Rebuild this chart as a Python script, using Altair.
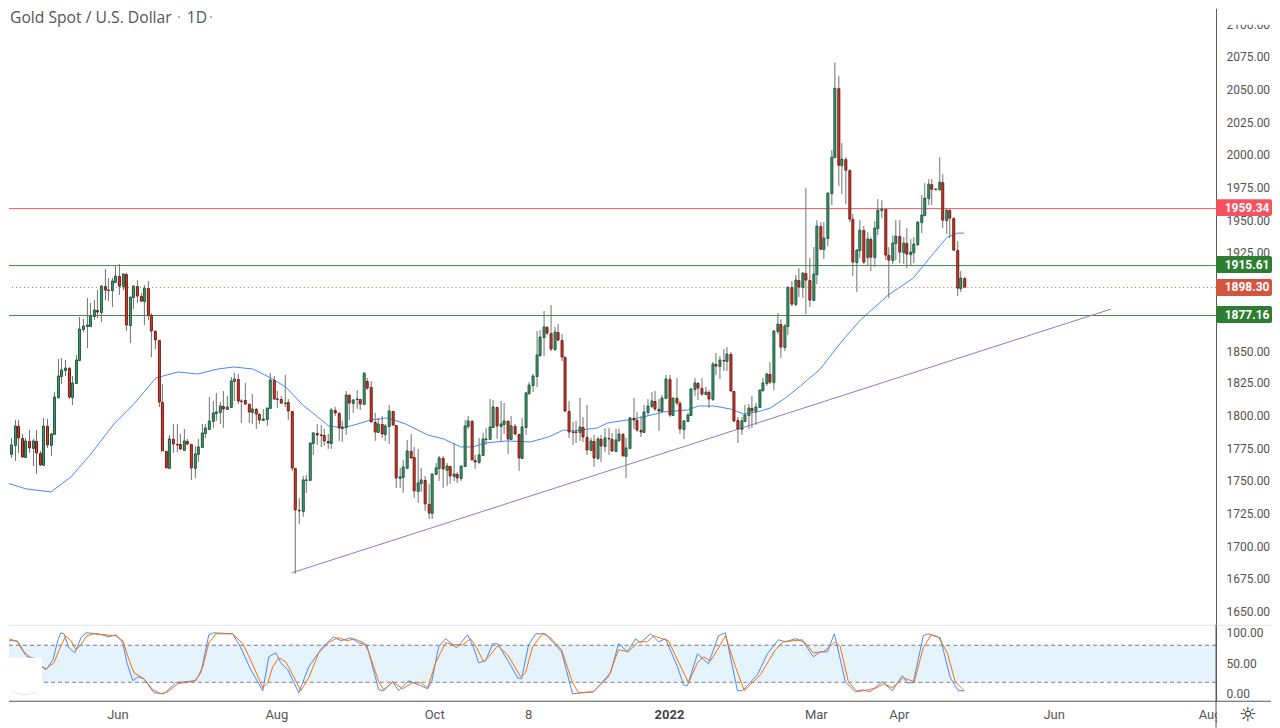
import pandas as pd
import altair as alt

opens = [
    1735, 1762.4, 1782.9, 1770.6, 1777.5, 1792.1, 1782.9, 1768.8, 1780.6, 1775.7,
    1780.6, 1771.4, 1762.6, 1792.1, 1777.5, 1786, 1814.4, 1830.6, 1835.2, 1836.7,
    1814.4, 1825.2, 1842.9, 1866.7, 1869, 1869, 1876.2, 1880.6, 1879.8, 1899,
    1896, 1896, 1902.6, 1906.7, 1899.6, 1908.5, 1869.8, 1890.6, 1899, 1891.9,
    1888, 1897.5, 1877, 1865.2, 1858.3, 1810.6, 1772.9, 1759.8, 1782.1, 1778.3,
    1778.3, 1774.2, 1780.6, 1778.3, 1759.8, 1770.8, 1776, 1786.7, 1790.3, 1796,
    1802.1, 1802.6, 1807.5, 1805.2, 1806.5, 1826.7, 1828.3, 1811.6, 1812, 1809,
    1802.6, 1805.2, 1801.4, 1796.5, 1797.3, 1806, 1827.5, 1812.9, 1812.9, 1810,
    1810.6, 1803.7, 1760.3, 1728.3, 1727.5, 1751, 1751, 1779, 1786.7, 1785.2,
    1785.2, 1780.9, 1779.6, 1804.4, 1802.4, 1790.6, 1791.6, 1816.2, 1809.6, 1812.6,
    1812.9, 1808.8, 1826.7, 1822.1, 1795.2, 1788, 1793.7, 1786.5, 1792.6, 1803.7,
    1793, 1752.6, 1753.4, 1760.5, 1772.9, 1768.3, 1742.6, 1749, 1750.6, 1732.9,
    1725.7, 1755.2, 1759.8, 1767.8, 1758.8, 1761.4, 1754.2, 1755.7, 1752.6, 1761.4,
    1792.1, 1796, 1766.5, 1765, 1769.8, 1782, 1782.1, 1791.4, 1806.7, 1792.1,
    1793.7, 1796, 1782.1, 1792.1, 1786, 1768, 1791.4, 1817.5, 1823.6, 1830.6,
    1846.8, 1860.6, 1868.3, 1863.7, 1851, 1864.5, 1858.3, 1845.2, 1803.4, 1788,
    1787.5, 1787.3, 1791.4, 1783.7, 1773.7, 1780.6, 1767.5, 1782.1, 1777.2, 1782.9,
    1782.1, 1773.4, 1781.3, 1785.9, 1769.5, 1775.7, 1798.3, 1796.8, 1789.5, 1788,
    1802.6, 1807.5, 1811.3, 1805.2, 1803.4, 1813.6, 1828.5, 1800.3, 1813.6, 1809.8,
    1790.3, 1795.7, 1800.3, 1820.3, 1825.2, 1821.3, 1816.4, 1818.2, 1812.6, 1839.8,
    1838, 1842.4, 1841.8, 1847.5, 1819, 1796.7, 1790.3, 1795.7, 1800.3, 1805.9,
    1803.4, 1806.5, 1819.8, 1825.2, 1832, 1825.7, 1865, 1870.5, 1852.6, 1869,
    1898.2, 1885.9, 1903.6, 1898.2, 1909, 1903.6, 1889, 1908.2, 1945.2, 1928,
    1935.9, 1970.5, 1998.2, 2050.5, 1991.8, 1996.7, 1988.2, 1950.5, 1917.5, 1926.7,
    1942.1, 1921.3, 1935.2, 1921.3, 1943.6, 1957.5, 1958.2, 1922.9, 1919, 1932,
    1937.5, 1925.2, 1932, 1923.6, 1925.2, 1931.3, 1948.2, 1953.6, 1966.7, 1977.5,
    1973.6, 1973.6, 1979, 1949.8, 1957.5, 1951.3, 1926.7, 1897.5, 1905.2,
]
closes = [
    1762.4, 1782.9, 1770.6, 1777.5, 1792.1, 1782.9, 1768.8, 1780.6, 1775.7, 1780.6,
    1771.4, 1762.6, 1792.1, 1777.5, 1786.2, 1814.4, 1830.6, 1835.2, 1836.7, 1814.4,
    1825.2, 1842.9, 1866.7, 1869, 1869.2, 1876.2, 1880.6, 1879.8, 1899, 1896,
    1895.9, 1903.2, 1906.7, 1899.6, 1908.5, 1869.8, 1890.6, 1899, 1891.9, 1888,
    1897.5, 1877, 1865.2, 1858.3, 1810.6, 1772.9, 1759.8, 1782.1, 1778.3, 1778.1,
    1774.4, 1780.6, 1778.3, 1759.8, 1770.8, 1776, 1786.7, 1790.8, 1796, 1802.1,
    1802.6, 1807.5, 1805.2, 1807, 1826.7, 1828.3, 1811, 1811.5, 1809, 1802.6,
    1805.2, 1801.4, 1796.5, 1797.5, 1806, 1827.5, 1812.9, 1812.8, 1809.8, 1810.2,
    1803.7, 1760.3, 1727.8, 1727.5, 1750.6, 1751.2, 1779, 1786.7, 1785.2, 1785.1,
    1780.9, 1779.6, 1804.4, 1801.9, 1790.6, 1791.6, 1816.2, 1809.6, 1812.1, 1812.8,
    1808.8, 1832.9, 1821.6, 1795.2, 1788, 1793.7, 1786.5, 1792.6, 1803.7, 1793,
    1752.6, 1753.4, 1760.6, 1772.9, 1768, 1742.6, 1749, 1750.6, 1732.9, 1725.7,
    1755.2, 1759.8, 1767.8, 1759, 1761.4, 1754.2, 1755.7, 1752.6, 1761.4, 1792.1,
    1796, 1766.5, 1765, 1769.8, 1782.1, 1782.4, 1791.4, 1806.7, 1792.1, 1793.7,
    1796, 1782.1, 1792.1, 1786, 1768, 1791.4, 1817.5, 1823.6, 1830.6, 1846.8,
    1860.6, 1868.3, 1863.7, 1851, 1864.5, 1858.3, 1845.2, 1803.4, 1788, 1787.3,
    1787.3, 1791.4, 1783.7, 1773.7, 1780.6, 1767.5, 1782.1, 1777.2, 1782.9, 1782.1,
    1773.4, 1781.3, 1785.9, 1769.5, 1775.7, 1798.3, 1796.8, 1789.5, 1788, 1802.6,
    1807.5, 1811.3, 1804.9, 1803.4, 1813.6, 1828.5, 1800.3, 1813.6, 1809.5, 1790.3,
    1796.2, 1800.8, 1820.8, 1825.2, 1821, 1816.4, 1818.2, 1812.6, 1839.8, 1838,
    1842.9, 1841.9, 1847.5, 1819, 1796.2, 1790.3, 1795.7, 1800.5, 1805.9, 1803.4,
    1806.7, 1819.8, 1825.2, 1832, 1825.7, 1865.2, 1870.5, 1852.6, 1869, 1898.2,
    1885.9, 1903.6, 1898.2, 1909, 1903.6, 1889, 1908.2, 1945.2, 1928, 1935.9,
    1970.5, 1998.2, 2050.5, 1991.8, 1996.7, 1988.2, 1950.5, 1917.5, 1926.7, 1942.1,
    1917.5, 1935.2, 1921.3, 1943.6, 1957.5, 1958.2, 1922.9, 1919, 1932, 1937.5,
    1925.2, 1932, 1923.6, 1925.2, 1931.3, 1948.2, 1953.6, 1966.7, 1977.5, 1973.6,
    1973.5, 1979, 1949.8, 1957.5, 1951.3, 1926.7, 1897.5, 1905.2, 1898.3,
]
highs = [
    1763, 1783, 1789.3, 1783.4, 1797, 1797, 1786, 1783.4, 1789, 1782.6,
    1789.3, 1773, 1798, 1797.5, 1787, 1818, 1843.4, 1844.4, 1842.4, 1837,
    1830.8, 1846.2, 1875.7, 1874.4, 1889.8, 1886, 1888.5, 1896, 1900, 1912.4,
    1905.2, 1905.2, 1915.5, 1916.2, 1909, 1909, 1890.6, 1900, 1904, 1893.7,
    1900, 1903.4, 1878.3, 1865.5, 1858.3, 1824.4, 1772.9, 1785.4, 1793.7, 1793.7,
    1786, 1789.8, 1782, 1778.3, 1776.9, 1782, 1793.7, 1793.7, 1814.7, 1811.6,
    1817.5, 1810.3, 1819.3, 1815.5, 1829.6, 1832.6, 1832, 1812.9, 1825, 1810,
    1816.7, 1805.7, 1801.9, 1805.2, 1806, 1832.6, 1830.8, 1819.3, 1815.5, 1831.6,
    1812.9, 1803.7, 1760.3, 1737, 1754, 1755, 1779.5, 1788, 1794, 1793,
    1790, 1786, 1805.7, 1807, 1803, 1796, 1819, 1817, 1813, 1820,
    1812.9, 1833, 1829, 1826.7, 1802, 1798, 1800, 1794, 1808, 1804,
    1793, 1760, 1766, 1781.5, 1786, 1776, 1774.5, 1760, 1754, 1748,
    1755.5, 1764, 1769, 1769.5, 1764, 1762, 1779, 1757, 1761.5, 1797,
    1800, 1797, 1770, 1783, 1787, 1791, 1813, 1812, 1807, 1811,
    1810, 1797, 1800, 1794, 1786, 1798, 1818, 1826, 1832, 1865,
    1866, 1880, 1869, 1885, 1868, 1870, 1863, 1846, 1811, 1795,
    1796, 1814, 1799, 1808, 1783, 1785, 1784, 1785, 1791, 1791,
    1787, 1790, 1790, 1787, 1783, 1799, 1814, 1803, 1800, 1808,
    1813, 1818, 1819, 1813, 1816, 1831, 1831, 1814, 1829, 1811,
    1797, 1802, 1821, 1829, 1826, 1829, 1822, 1820, 1841, 1848,
    1846, 1851, 1853, 1849, 1819, 1799, 1799, 1808, 1809, 1815,
    1810, 1820, 1829, 1833, 1841, 1866, 1879, 1874, 1870, 1898,
    1903, 1908, 1913, 1910, 1974, 1921, 1929, 1950, 1948, 1948,
    1971, 2003, 2070.5, 2059.8, 2009, 1998, 1989, 1954.5, 1928, 1950,
    1945, 1941, 1937, 1949, 1966, 1965, 1959, 1929, 1938, 1950,
    1950, 1937, 1944, 1935, 1937, 1949, 1969, 1978, 1981, 1981,
    1974, 1998.3, 1985, 1958, 1958, 1952, 1934, 1911, 1906.5,
]
lows = [
    1733, 1758.3, 1765.5, 1768, 1765.5, 1771.9, 1768, 1768, 1771.9, 1761.6,
    1755.7, 1762, 1762.6, 1775.7, 1769.3, 1786, 1812.9, 1824.4, 1830.8, 1812.9,
    1808.3, 1825, 1841.9, 1864, 1851.9, 1868, 1873.7, 1875, 1871.9, 1888.5,
    1888, 1883.4, 1902.6, 1892.4, 1896.2, 1864.7, 1855.7, 1882.1, 1886, 1887.2,
    1869.3, 1873.7, 1845, 1851.4, 1806.5, 1772.9, 1759.8, 1759.8, 1771.9, 1772.6,
    1773.7, 1773, 1777.8, 1750.6, 1752.6, 1765, 1775.9, 1783.4, 1789.8, 1791,
    1796, 1793.7, 1791, 1804.7, 1806.5, 1811, 1809, 1794.9, 1808.5, 1794.2,
    1793.7, 1789.8, 1793.7, 1796.2, 1792.4, 1806, 1812.1, 1806, 1809, 1806.5,
    1796.7, 1757.8, 1679, 1717.4, 1723, 1741, 1750, 1770, 1777.5, 1776,
    1777, 1775, 1775, 1800, 1781, 1780, 1785, 1797, 1802, 1805,
    1804.7, 1808.8, 1820, 1795, 1781, 1787, 1783, 1780.5, 1778.5, 1792,
    1744.6, 1745, 1741, 1760.5, 1767, 1737, 1733, 1742, 1727, 1721,
    1721, 1755, 1750, 1745, 1746, 1748, 1750, 1748.6, 1750, 1761,
    1790, 1766, 1759, 1763, 1769, 1778, 1782, 1791, 1782, 1780,
    1786, 1771, 1782, 1785, 1758, 1768, 1785, 1816, 1818, 1822,
    1845, 1846, 1862, 1849.5, 1849.5, 1857, 1842, 1803, 1783, 1778,
    1779.5, 1781, 1780, 1770, 1773, 1761, 1766, 1765, 1772, 1770,
    1772, 1772, 1780, 1769, 1752.5, 1775, 1790, 1788, 1784, 1787,
    1800, 1806, 1804, 1788.5, 1803, 1813, 1799, 1800, 1808, 1785.9,
    1782, 1795, 1800, 1815, 1812, 1815, 1816, 1806, 1811, 1831,
    1828, 1834, 1834, 1818.5, 1795, 1779.5, 1785, 1795, 1790, 1791,
    1793, 1806, 1818, 1823, 1824, 1820, 1863, 1844, 1850, 1862,
    1884, 1884, 1891, 1890, 1878, 1883.5, 1889, 1901, 1927, 1920,
    1930, 1961, 1998, 1976, 1970, 1962, 1948, 1907, 1895, 1921,
    1916, 1915, 1911, 1914, 1938, 1951, 1919, 1890, 1916, 1919,
    1917, 1916, 1913, 1915, 1917, 1930, 1940, 1953, 1961, 1961,
    1973, 1972, 1944, 1939, 1936, 1926, 1891.5, 1895, 1897.5,
]

# moving average, read at the bends
ma_idx = [0.25, 7.2, 14.1, 19.7, 25.2, 31.7, 37.3, 43.3, 49.3, 54.9, 60.4, 65, 70.2, 75.2, 79.4, 84, 88.2, 91.4, 95.6,
          99.3, 103, 107.7, 112.8, 118.8, 123.4, 128, 131.3, 135, 141, 147.5, 152.6, 156.7, 159.5, 166, 168.8, 174.3,
          178.9, 184.5, 191, 194.2, 198.4, 203, 206.7, 210.4, 214.1, 218.3, 222.5, 228, 233.6, 239.1, 247, 254, 258.6,
          263.2, 266, 268]
ma_val = [1750, 1744, 1742, 1753, 1770.8, 1794, 1809, 1829, 1833.4, 1832, 1836, 1837.5, 1835.5, 1829, 1821.9, 1808, 1799,
          1791.9, 1791, 1794, 1797, 1798, 1794, 1785.5, 1782, 1776.5, 1776.5, 1779.5, 1780.8, 1780, 1784, 1789.3, 1788.5,
          1791, 1794.6, 1797, 1799.3, 1803, 1804.7, 1807.5, 1807.5, 1805.5, 1801.6, 1802.7, 1806, 1814, 1823, 1836,
          1855.5, 1873, 1892.4, 1905.5, 1921.8, 1937, 1939.8, 1940]

trend_idx = [81.1, 308.9]
trend_val = [1679.8, 1881.7]

level_names = ["1959.34", "1915.61", "1877.16"]
level_vals = [1959.34, 1915.61, 1877.16]
level_cols = ["#f7525f", "#388e3c", "#388e3c"]
last_price = 1898.30

price_ticks = [1650, 1675, 1700, 1725, 1750, 1775, 1800, 1825, 1850, 1875, 1900, 1925, 1950, 1975,
               2000, 2025, 2050, 2075, 2100]

k_idx = [0.25, 1.4, 2.6, 4.7, 6, 7.5, 9, 11.6, 12.8, 14.6, 16, 16.9, 17.8, 19.2, 20.8, 22.5, 23.9, 27.1, 30.3, 32.2, 34,
         35.3, 36.8, 38.2, 40.1, 42.8, 45.6, 48.9, 54, 55.8, 58.1, 59.5, 64.6, 66.9, 69.7, 72.9, 74.8, 76.6, 78, 79.9,
         82.9, 85.9, 89.6, 92.8, 94.7, 97.5, 99.8, 101.9, 103, 105.3, 106.7, 109.1, 110.9, 113.7, 116.9, 118.8, 120.1,
         122, 123.8, 126.9, 129.9, 131.7, 133.1, 135, 136.8, 138.2, 141.4, 143.8, 145.1, 147, 148.8, 151.6, 156.2, 159,
         165, 169.7, 172, 174.3, 176.6, 178, 180.8, 183.1, 185, 188.2, 190, 191.2, 193.8, 197, 199.6, 201.6, 204.9,
         206.3, 210.4, 213.2, 216.4, 218.3, 221.1, 223.4, 226, 228, 229.9, 232, 233.6, 235, 237.8, 239.6, 241.9, 245.2,
         247.9, 250.7, 252.1, 254, 256.7, 257.9, 261.4, 264.2, 266.5, 268]
k_val = [84.6, 93.3, 87.9, 87.3, 72.5, 60.4, 58.8, 45, 39.5, 56, 89, 100, 98.8, 75.2, 67, 91.7, 100, 99.4, 94.5, 96.6,
         83.5, 50.5, 22, 27.5, 24.2, 1.1, 0, 17.6, 22, 34, 97.2, 100, 98.8, 75.2, 39.5, 5, 61.5, 68.1, 50.5, 39.5, 1.1,
         45, 78, 93.3, 87.9, 91.7, 84.6, 80.7, 56, 6.6, 5, 20.3, 5.5, 21.4, 13.7, 8.3, 20.3, 78, 90, 75.2, 97.2, 75.2,
         50.5, 54.9, 82.4, 82.4, 53.3, 25.8, 24.7, 80.7, 99.4, 99.4, 69.7, 0, 3.9, 34, 82.4, 68.7, 90.6, 83.5, 98.8,
         86.2, 90, 45, 14.8, 13.2, 65.9, 49.4, 95.6, 100, 5, 5, 31.3, 65.3, 89, 86.2, 90, 86.2, 60.4, 69.7, 68.7, 98.8,
         56, 19.2, 2.8, 6.6, 3.9, 19.2, 5.5, 30.2, 18.7, 18.7, 95.6, 99.4, 91.7, 25.8, 5.5, 4.4]

d_idx = [0.2, 1.2, 2.6, 4.9, 6.7, 8.6, 11.6, 12.8, 15.1, 16.5, 18.3, 19.7, 21.1, 22.5, 24.1, 26.2, 29, 32.2, 34, 35.4,
         37.1, 40.1, 42.4, 44.7, 46.5, 49.3, 54.4, 56.3, 58.1, 60, 64.6, 67.4, 70.2, 72.9, 74.3, 75.7, 77.6, 79.4, 81.7,
         83.6, 85.9, 88.7, 91.5, 93.8, 96.6, 98.4, 101.2, 102.6, 104, 105.3, 106.7, 109.1, 111.8, 114.6, 116.9, 118.9,
         121.1, 123.8, 126.2, 128.5, 130.8, 132.6, 134.5, 135.9, 138.2, 141, 144.7, 146.1, 147.9, 150.7, 153, 156.2, 159,
         160.9, 165, 169.2, 172, 174.8, 177.5, 179.9, 181.7, 185.9, 188.2, 191.4, 193.8, 195.6, 197.5, 199.3, 201.6,
         204.4, 206.9, 211.3, 215.5, 217.8, 222.9, 226.2, 228.9, 232.2, 233.6, 235.9, 238.2, 241.5, 243.8, 245.6, 247.9,
         251.2, 254.2, 256.7, 258.8, 260.9, 263.2, 265.5, 268]
d_val = [79.1, 86.2, 90, 86.2, 69.7, 58.8, 43.9, 40.6, 50.5, 75.2, 95.6, 87.9, 72.5, 80.7, 95.6, 99.4, 97.7, 95.6, 87.9,
         61.5, 34, 24.2, 6.6, 0, 3.9, 16.5, 22, 45, 83.5, 98.8, 98.3, 82.4, 47.8, 9.4, 17.6, 45, 59.9, 53.3, 28.6, 5,
         25.8, 67, 86.2, 91.7, 87.9, 90.6, 83.5, 69.7, 39.5, 20.3, 6.6, 19.2, 8.3, 17.6, 17.6, 10.5, 50.5, 84.6, 80.7,
         80.7, 90.6, 75.2, 53.3, 61.5, 79.1, 64.2, 28.6, 34, 78, 99.4, 91.7, 72.5, 17.6, 1.1, 3.3, 28.6, 72.5, 69.7, 86.2,
         86.2, 95.6, 87.9, 56, 17.6, 50.5, 61.5, 54.4, 72.5, 95.6, 45, 5, 31.3, 72.5, 86.2, 89, 67, 68.7, 85.7, 78, 20.3,
         3.9, 6.6, 9.4, 16.5, 9.4, 25.8, 19.2, 75.2, 97.2, 93.3, 67, 20.3, 4.4]

arc_idx = [3.6, 5.2, 6.9, 8.6, 10.2]
arc_val = [3.8, 0.3, -1, 0.3, 3.8]

date_idx = [32.75, 76.9, 120.8, 146.9, 226.9, 250, 293, 336.4]
date_lab = ["Jun", "Aug", "Oct", "8", "Mar", "Apr", "Jun", "Aug"]

FONT = "Roboto"
GREY = "#555555"

xscale = alt.Scale(domain=[2.47, 338.03], nice=False, zero=False, padding=0, round=True)
yscale = alt.Scale(domain=[1640.06, 2111.95], nice=False, zero=False, padding=0, round=True)
oscale = alt.Scale(domain=[-11.5, 113.7], nice=False, zero=False, padding=0, round=True)

price_ax = alt.Axis(orient="right", values=price_ticks, format=".2f", grid=False, ticks=False, tickSize=0,
                    labelPadding=10, labelColor=GREY, labelFont=FONT, labelFontSize=12, domainColor=GREY,
                    labelOverlap=False)
osc_ax = alt.Axis(orient="right", values=[0, 50, 100], format=".2f", grid=False, ticks=False, tickSize=0,
                  labelPadding=10, labelColor=GREY, labelFont=FONT, labelFontSize=12, domainColor=GREY,
                  labelOverlap=False)


def X(field):
    return alt.X(field, type="quantitative", scale=xscale, axis=None)


def Y(field):
    return alt.Y(field, type="quantitative", scale=yscale, axis=price_ax, title=None)


def YO(field):
    return alt.Y(field, type="quantitative", scale=oscale, axis=osc_ax, title=None)


candles = pd.DataFrame({"i": range(len(opens)), "o": opens, "c": closes, "h": highs, "l": lows})
candles["dir"] = ["up" if c >= o else "down" for o, c in zip(opens, closes)]

# top label is only a sliver in the picture
axis_cut = alt.Chart(pd.DataFrame({"a": [0]})).mark_rect(color="white").encode(
    x=alt.value(1209), x2=alt.value(1264), y=alt.value(0), y2=alt.value(16.5))

levels = pd.DataFrame({"name": level_names, "p": level_vals, "col": level_cols})
level_rules = alt.Chart(levels).mark_rule(strokeWidth=1, yOffset=0.5).encode(
    y=Y("p"), color=alt.Color("col:N", scale=None))
last_rule = alt.Chart(pd.DataFrame({"p": [last_price]})).mark_rule(
    strokeWidth=1, strokeDash=[1, 3], color="#ef5350", yOffset=0.5).encode(y=Y("p"))

ma = alt.Chart(pd.DataFrame({"i": ma_idx, "p": ma_val})).mark_line(
    color="#448aff", strokeWidth=1, clip=True).encode(x=X("i"), y=Y("p"), order="i:Q")
trend = alt.Chart(pd.DataFrame({"i": trend_idx, "p": trend_val})).mark_line(
    color="#9575cd", strokeWidth=1, clip=True).encode(x=X("i"), y=Y("p"))

wicks = alt.Chart(candles).mark_rule(color="#707070", strokeWidth=1, clip=True, xOffset=0.5).encode(
    x=X("i"), y=Y("l"), y2="h:Q")
bodies = alt.Chart(candles).mark_bar(
    size=2, strokeWidth=1, clip=True, orient="vertical", xOffset=0.5, yOffset=0.5).encode(
    x=X("i"), y=Y("o"), y2="c:Q",
    fill=alt.Fill("dir:N", legend=None, scale=alt.Scale(domain=["up", "down"], range=["#3f9a70", "#e0392b"])),
    stroke=alt.Stroke("dir:N", legend=None, scale=alt.Scale(domain=["up", "down"], range=["#1f5a3e", "#6e1c12"])),
)

tags = pd.DataFrame({
    "name": level_names + ["1898.30"],
    "p": level_vals + [last_price],
    "col": ["#f7525f", "#2e7d32", "#2e7d32", "#d4553f"],
})
tags["top"] = tags["p"] + 6.5
tags["bot"] = tags["p"] - 6.5
tag_rects = alt.Chart(tags).mark_rect(cornerRadius=2).encode(
    x=alt.value(1208), x2=alt.value(1264), y=Y("top"), y2="bot:Q", color=alt.Color("col:N", scale=None))
tag_text = alt.Chart(tags).mark_text(
    color="white", font=FONT, fontSize=12, fontWeight="bold", align="center", baseline="middle").encode(
    x=alt.value(1239), y=Y("p"), text="name:N")

title_txt = ["Gold Spot / U.S. Dollar", "·", "1D", "·"]
title_cols = [GREY, "#a0a0a0", GREY, "#a0a0a0"]
title_px = [1, 168, 178, 200]
title_bits = [
    alt.Chart(pd.DataFrame({"t": [t]})).mark_text(
        font="Open Sans", fontSize=15.7, align="left", baseline="middle", color=c).encode(
        x=alt.value(p), y=alt.value(10), text="t:N")
    for t, c, p in zip(title_txt, title_cols, title_px)
]

top = alt.layer(
    axis_cut, level_rules, last_rule, trend, ma, wicks, bodies, tag_rects, tag_text, *title_bits
).properties(width=1208, height=617)

# lower pane
band = alt.Chart(pd.DataFrame({"a": [80], "b": [20]})).mark_rect(color="#e5f3fd").encode(
    x=alt.value(0), x2=alt.value(1208), y=YO("a"), y2="b:Q")
dash = alt.Chart(pd.DataFrame({"v": [80, 20]})).mark_rule(
    color="#787b86", strokeDash=[4, 3], strokeWidth=1, yOffset=0.5).encode(y=YO("v"))
k_line = alt.Chart(pd.DataFrame({"i": k_idx, "v": k_val})).mark_line(
    color="#448aff", strokeWidth=1, clip=True).encode(x=X("i"), y=YO("v"), order="i:Q")
d_line = alt.Chart(pd.DataFrame({"i": d_idx, "v": d_val})).mark_line(
    color="#ff6d00", strokeWidth=1, clip=True).encode(x=X("i"), y=YO("v"), order="i:Q")
mask = alt.Chart(pd.DataFrame({"a": [59.3], "b": [-6]})).mark_rect(color="white").encode(
    x=alt.value(0), x2=alt.value(33), y=YO("a"), y2="b:Q")
arc = alt.Chart(pd.DataFrame({"i": arc_idx, "v": arc_val})).mark_line(
    color="#e6e6e6", strokeWidth=1, clip=True).encode(x=X("i"), y=YO("v"))

dates = alt.Chart(pd.DataFrame({"i": date_idx, "t": date_lab})).mark_text(
    font=FONT, fontSize=13, color=GREY, baseline="middle").encode(x=X("i"), y=alt.value(90), text="t:N")
year = alt.Chart(pd.DataFrame({"i": [186], "t": ["2022"]})).mark_text(
    font=FONT, fontSize=13, fontWeight="bold", color="#444444", baseline="middle").encode(
    x=X("i"), y=alt.value(90), text="t:N")
corner = alt.Chart(pd.DataFrame({"a": [0]})).mark_rect(color="white").encode(
    x=alt.value(1209), x2=alt.value(1264), y=alt.value(77), y2=alt.value(103))
one = pd.DataFrame({"a": [0]})
top_line = alt.Chart(one).mark_rule(color="#e0e3eb", strokeWidth=1, yOffset=0.5).encode(
    x=alt.value(0), x2=alt.value(1263), y=alt.value(0))
base_line = alt.Chart(one).mark_rule(color=GREY, strokeWidth=1, yOffset=0.5).encode(
    x=alt.value(0), x2=alt.value(1263), y=alt.value(76))
side_line = alt.Chart(one).mark_rule(color=GREY, strokeWidth=1).encode(
    x=alt.value(1208), y=alt.value(0), y2=alt.value(103))
gear = alt.Chart(pd.DataFrame({"t": ["☼"]})).mark_text(
    font="DejaVu Sans", fontSize=20, color="#222222", baseline="middle").encode(
    x=alt.value(1240), y=alt.value(90), text="t:N")

bottom = alt.layer(
    band, dash, k_line, d_line, mask, arc, dates, year, corner, top_line, base_line, side_line, gear
).properties(width=1208, height=76)

chart = alt.vconcat(top, bottom, spacing=0, bounds="flush").resolve_scale(x="shared").properties(
    padding=0
).configure_view(stroke=None)

chart.save("out.html", embed_options={"renderer": "svg", "actions": False})
